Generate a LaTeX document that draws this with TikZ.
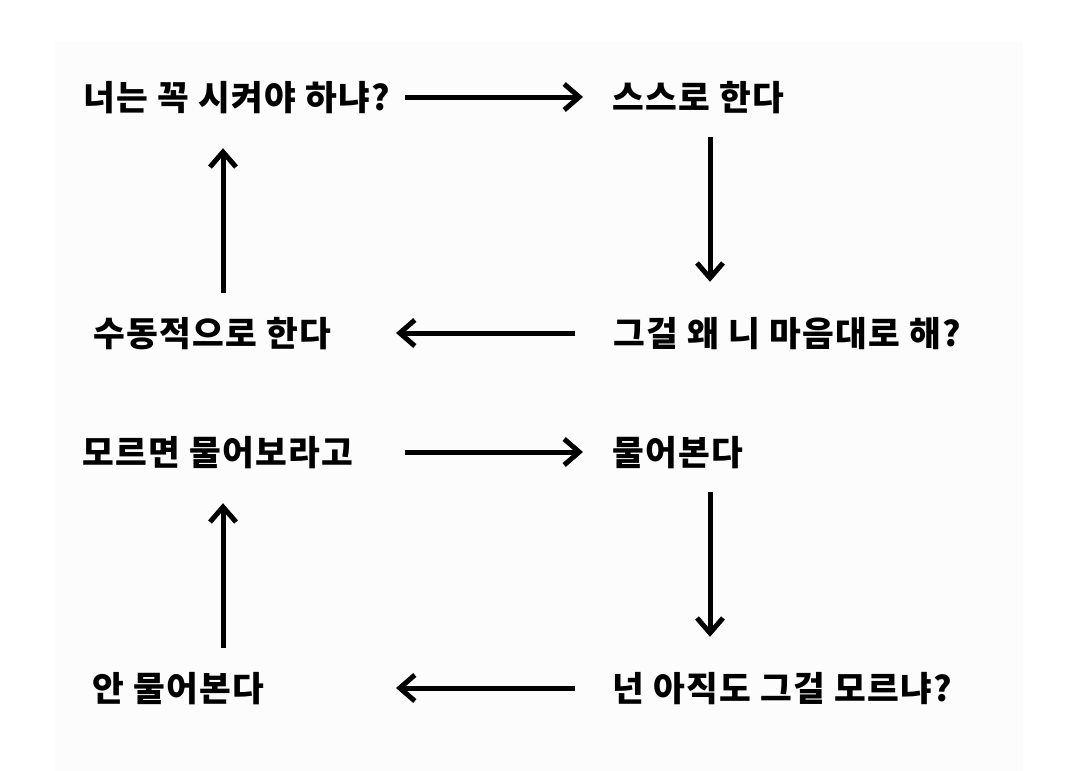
\documentclass[tikz,border=0pt]{standalone}
\usepackage{fontspec}
\setmainfont{Noto Sans CJK KR}[LetterSpace=4]
\usepackage{tikz}
\usetikzlibrary{arrows.meta}
\definecolor{panel}{HTML}{FCFCFD}

\tikzset{
    txt/.style={anchor=west, inner sep=0pt, text height=27pt, text depth=1pt,
        font=\fontsize{34.5}{41}\selectfont\bfseries},
    arr/.style={line width=5pt, -{Straight Barb[length=15pt, width=26pt]}},
    back/.style={arr, shorten <=8pt, shorten >=-9pt},
    vert/.style={arr, shorten <=26pt, shorten >=37pt}
}

\begin{document}
\begin{tikzpicture}[x=1pt, y=-1pt]

        \useasboundingbox (0,0) rectangle (1080,771);
        \fill[white] (0,0) rectangle (1080,771);
        \fill[panel] (55,42) rectangle (1023,771);

        % columns of the arrows
        \coordinate (hl) at (405,0);
        \coordinate (hr) at (583,0);
        \coordinate (vl) at (223,0);
        \coordinate (vr) at (710,0);

        \node[txt] (ask) at (83,97) {너는 꼭 시켜야 하냐?};
        \node[txt] (self) at (612,97) {스스로 한다};
        \node[txt] (why) at (613,333) {그걸 왜 니 마음대로 해?};
        \node[txt] (passive) at (93,333) {수동적으로 한다};

        \node[txt] (tell) at (82,452) {모르면 물어보라고};
        \node[txt] (asks) at (612,452) {물어본다};
        \node[txt] (still) at (612,688) {넌 아직도 그걸 모르냐?};
        \node[txt] (noask) at (92,688) {안 물어본다};

        \draw[arr] (ask.east -| hl) -- (self.west -| hr);
        \draw[vert] (self.south -| vr) -- (why.north -| vr);
        \draw[back] (why.west -| hr) -- (passive.east -| hl);
        \draw[vert] (passive.north -| vl) -- (ask.south -| vl);

        \draw[arr] (tell.east -| hl) -- (asks.west -| hr);
        \draw[vert] (asks.south -| vr) -- (still.north -| vr);
        \draw[back] (still.west -| hr) -- (noask.east -| hl);
        \draw[vert] (noask.north -| vl) -- (tell.south -| vl);

    \end{tikzpicture}
\end{document}
